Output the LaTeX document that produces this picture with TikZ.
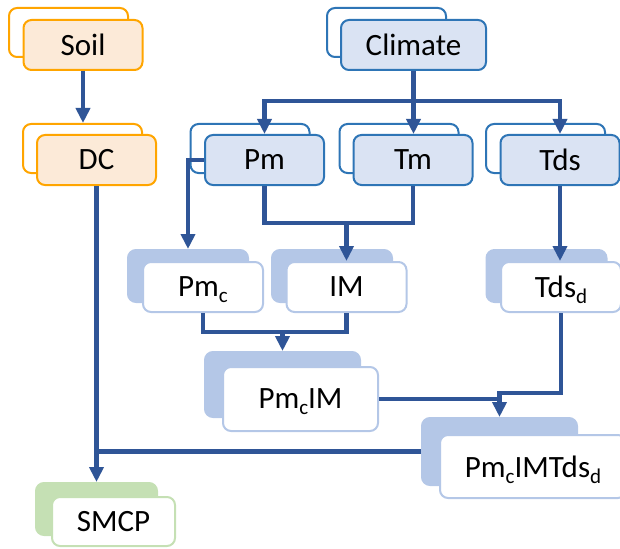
\documentclass[tikz,border=0pt]{standalone}
\usepackage{fontspec}
\setmainfont{Carlito}
\usetikzlibrary{arrows.meta}
\definecolor{soilline}{RGB}{255,165,0}
\definecolor{soilfill}{RGB}{252,234,216}
\definecolor{climline}{RGB}{46,117,182}
\definecolor{climfill}{RGB}{218,227,243}
\definecolor{derfill}{RGB}{180,199,231}
\definecolor{smcpfill}{RGB}{197,224,180}
\definecolor{linkcol}{RGB}{47,85,151}
\newcommand{\lowsub}[1]{\raisebox{-6pt}[0pt][0pt]{\fontsize{21}{21}\selectfont #1}}

\begin{document}
\begin{tikzpicture}[x=1pt,y=-1pt,>={Triangle[width=14pt,length=15pt]},
  box/.style={rounded corners=8pt,line width=2pt,inner sep=0pt,
    minimum width=119pt,minimum height=50pt,font=\fontsize{31}{31}\selectfont},
  soilback/.style={box,draw=soilline,fill=white,minimum height=49pt},
  soilfront/.style={box,draw=soilline,fill=soilfill},
  climback/.style={box,draw=climline,fill=white,minimum height=49pt},
  climfront/.style={box,draw=climline,fill=climfill},
  derback/.style={box,draw=derfill,fill=derfill,minimum width=120pt,minimum height=52pt},
  derfront/.style={box,draw=derfill,fill=white,minimum width=120pt},
  smcpback/.style={box,draw=smcpfill,fill=smcpfill,minimum width=121pt,minimum height=52pt},
  smcpfront/.style={box,draw=smcpfill,fill=white,minimum width=123pt,minimum height=49pt},
  link/.style={draw=linkcol,line width=4.3pt}]
\useasboundingbox (0,0) rectangle (620,548);

% inputs
\node[soilback] (soilb) at (68.5,32.5) {};
\node[soilfront] (soil) at (83,45) {Soil};
\node[soilback] (dcb) at (82.5,148.5) {};
\node[soilfront] (dc) at (96.5,160) {DC};
\node[climback] (climateb) at (386.5,32.5) {};
\node[climfront,minimum width=145pt] (climate) at (413.5,45) {Climate};
\node[climback] (pmb) at (250,148.5) {};
\node[climfront] (pm) at (264.5,160) {Pm};
\node[climback] (tmb) at (399,148.5) {};
\node[climfront] (tm) at (413,160) {Tm};
\node[climback] (tdsb) at (545.5,148.5) {};
\node[climfront] (tds) at (560,160) {Tds};

% derived layers
\node[derback] (pmcb) at (188,276) {};
\node[derfront] (pmc) at (203,287) {Pm\lowsub{c}};
\node[derback] (imb) at (332,276) {};
\node[derfront] (im) at (346.5,287) {IM};
\node[derback] (tdsdb) at (546.5,276) {};
\node[derfront] (tdsd) at (561,287) {Tds\lowsub{d}};
\node[derback,minimum width=155pt,minimum height=65pt] (pmcimb) at (282.5,384.5) {};
\node[derfront,minimum width=155pt,minimum height=64pt] (pmcim) at (300.5,399) {Pm\lowsub{c}IM};
\node[derback,minimum width=155pt,minimum height=67pt] (pmcimtdsb) at (499.5,451.5) {};
\node[derfront,minimum width=186pt,minimum height=63pt] (pmcimtds) at (533,466.5) {Pm\lowsub{c}IMTds\lowsub{d}};
\node[smcpback] (smcpb) at (96.5,509) {};
\node[smcpfront] (smcp) at (113.5,521.5) {SMCP};

\coordinate (cfork) at (413.5,101);
\coordinate (pmtm) at (346.5,223);
\coordinate (pmcjoin) at (282.5,332);
\coordinate (tdsjoin) at (499.5,393);

\draw[link,->] (soil.south) -- (soil.south |- dcb.north);
\draw[link,->] (climate.south) -- (climate.south |- tm.north);
\draw[link,->] (cfork) -| (pm.north);
\draw[link,->] (cfork) -| (tds.north);
\draw[link,->] (pm.west) -| (pmcb.north);
\draw[link] (pm.south) |- (pmtm) -| (tm.south);
\draw[link,->] (pmtm) -- (im.north);
\draw[link,->] (tds.south) -- (tds.south |- tdsd.north);
\draw[link] (pmc.south) |- (pmcjoin) -| (im.south);
\draw[link,->] (pmcjoin) -- (pmcimb.north);
\draw[link,->] (tdsd.south) |- (tdsjoin) -- (pmcimtdsb.north);
\draw[link] (pmcim.east) -- (pmcim.east -| tdsjoin);
\draw[link,->] (dc.south) -- (dc.south |- smcpb.north);
\draw[link] (pmcimtdsb.west) -- (pmcimtdsb.west -| dc.south);
\end{tikzpicture}
\end{document}
